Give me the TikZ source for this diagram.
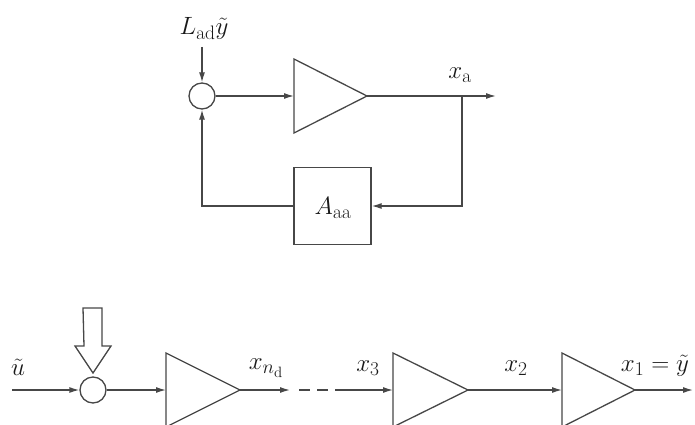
\documentclass[tikz,border=0pt]{standalone}
\usepackage{fix-cm}
\usetikzlibrary{arrows.meta}
\def\defaultscriptratio{.78}
\def\defaultscriptscriptratio{.6}
\begin{document}
\begin{tikzpicture}[x=1pt,y=-1pt,
  line width=1.3pt,
  lc/.style={draw=black!72},
  arr/.style={lc,-{Latex[length=10pt,width=6pt]}},
  sumc/.style={circle,lc,minimum size=26pt,inner sep=0pt},
  blk/.style={rectangle,lc,minimum width=77pt,minimum height=77pt,inner sep=0pt},
  lbl/.style={inner sep=0pt,text=black!90,font=\fontsize{25}{30}\selectfont},
  tri/.style={lc,line join=miter}]
\useasboundingbox (0,0) rectangle (695,425);
\begin{scope}
\clip (0,0) rectangle (695,425);
% ---------- top loop ----------
\node[sumc] (s1) at (202,96) {};
\node[lbl] (lad) at (204,28) {$L_{\mathrm{ad}}\tilde{y}$};
\coordinate (ladend) at (202,47);
\draw[tri] (294,59) -- (367,96) -- (294,133) -- cycle;
\coordinate (t0in) at (294,96);
\coordinate (t0out) at (367,96);
\coordinate (br) at (462,96);
\coordinate (xaend) at (496,96);
\node[lbl] (xa) at (460,75) {$x_{\mathrm{a}}$};
\node[blk] (A) at (332.5,206) {};
\node[lbl] (Alab) at (333,208) {$A_{\mathrm{aa}}$};
\coordinate (fbl) at (202,206);
\draw[arr] (ladend) -- (s1.north);
\draw[arr] (s1.east) -- (t0in);
\draw[arr] (t0out) -- (xaend);
\draw[arr] (br) |- (A.east);
\draw[arr] (A.west) -- (fbl) -- (s1.south);
% ---------- bottom chain ----------
\node[sumc] (s2) at (93,390) {};
\node[lbl] (u) at (18,367) {$\tilde{u}$};
\coordinate (uin) at (12,390);
\draw[lc] (83,308) -- (102,308) -- (102,346) -- (111,346) -- (93,373)
  -- (75,346) -- (84,346) -- cycle;
\draw[tri] (166,353) -- (240,390) -- (166,427) -- cycle;
\coordinate (t1in) at (166,390);
\coordinate (t1out) at (240,390);
\coordinate (t1end) at (290,390);
\coordinate (dsh1) at (299,390);
\coordinate (dsh2) at (328,390);
\coordinate (sol) at (335,390);
\draw[tri] (393,353) -- (468,390) -- (393,427) -- cycle;
\coordinate (t2in) at (393,390);
\coordinate (t2out) at (468,390);
\draw[tri] (562,353) -- (635,390) -- (562,427) -- cycle;
\coordinate (t3in) at (562,390);
\coordinate (t3out) at (635,390);
\coordinate (yend) at (693,390);
\node[lbl] (xnd) at (266,368) {$x_{n_{\mathrm{d}}}$};
\node[lbl] (x3) at (368,368) {$x_3$};
\node[lbl] (x2) at (516,368) {$x_2$};
\node[lbl] (x1) at (655,366) {$x_1=\tilde{y}$};
\draw[arr] (uin) -- (s2.west);
\draw[arr] (s2.east) -- (t1in);
\draw[arr] (t1out) -- (t1end);
\draw[lc,dash pattern=on 11pt off 7pt] (dsh1) -- (dsh2);
\draw[arr] (sol) -- (t2in);
\draw[arr] (t2out) -- (t3in);
\draw[arr] (t3out) -- (yend);
\end{scope}
\end{tikzpicture}
\end{document}
